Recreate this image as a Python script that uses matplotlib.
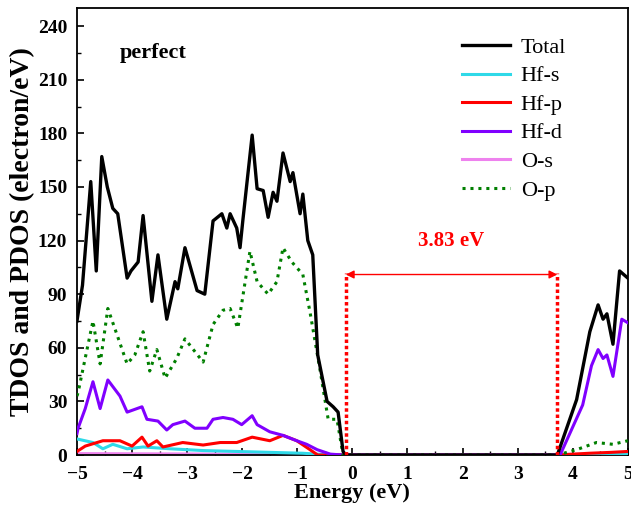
import matplotlib
matplotlib.use('Agg')
import matplotlib.pyplot as plt
from matplotlib.ticker import MultipleLocator

plt.rcParams['font.family'] = ['Liberation Serif', 'DejaVu Serif']

# valence band / conduction band edges (eV)
vbm = -0.12
cbm = 3.72
gap_label = '3.83 eV'
arrow_level = 101

# Total DOS
total_e = [-5.0, -4.9, -4.75, -4.65, -4.55, -4.45, -4.35, -4.26, -4.09, -4.02, -3.89, -3.80,
           -3.64, -3.53, -3.37, -3.22, -3.17, -3.04, -2.82, -2.68, -2.53, -2.37, -2.28,
           -2.22, -2.10, -2.04, -1.99, -1.82, -1.73, -1.62, -1.53, -1.44, -1.37, -1.26,
           -1.13, -1.08, -0.95, -0.90, -0.81, -0.72, -0.63, -0.46, -0.35, -0.26, -0.17,
           -0.12, 3.72, 4.07, 4.31, 4.46, 4.55, 4.62, 4.73, 4.85, 5.0]
total_v = [75, 95, 153, 103, 167, 150, 138, 135, 99, 103, 108, 134,
           86, 112, 76, 97, 93, 116, 92, 90, 131, 135, 127,
           135, 127, 116, 131, 179, 149, 148, 133, 147, 142, 169,
           153, 158, 135, 146, 120, 112, 56, 30, 27, 24, 2,
           0, 0, 31, 69, 84, 76, 79, 62, 103, 99]

# Hf-s
hfs_e = [-5.0, -4.71, -4.53, -4.35, -4.09, -3.80, -3.31, -2.71, -2.10, -1.50, -0.90, -0.40, 3.72, 5.0]
hfs_v = [9, 7, 3.5, 6, 3.5, 4.5, 3.5, 2.5, 2, 1.5, 1, 0, 0, 0.3]

# Hf-p
hfp_e = [-5.0, -4.85, -4.53, -4.22, -4.00, -3.82, -3.71, -3.55, -3.44, -3.08, -2.71, -2.40,
         -2.10, -1.82, -1.50, -1.26, -1.01, -0.77, -0.63, 3.72, 4.3, 4.7, 5.0]
hfp_v = [2, 5, 8, 8, 5, 10, 5, 8, 4.5, 7, 5.6, 7,
         7, 10, 8, 11, 8, 3, 0, 0, 1, 1.5, 2]

# Hf-d
hfd_e = [-5.0, -4.98, -4.85, -4.71, -4.58, -4.44, -4.22, -4.09, -3.82, -3.73, -3.53, -3.37,
         -3.26, -3.04, -2.86, -2.64, -2.53, -2.35, -2.17, -2.01, -1.82, -1.73, -1.50,
         -1.26, -1.01, -0.83, -0.64, -0.40, -0.17, 3.72, 3.77, 4.18, 4.34, 4.46, 4.55,
         4.62, 4.73, 4.89, 5.0]
hfd_v = [12, 15, 26, 41, 26, 42, 33, 24, 27, 20, 19, 14,
         17, 19, 15, 15, 20, 21, 20, 17, 22, 17, 13,
         11, 8, 6, 3, 0.5, 0, 0, 0, 28, 50, 59, 54,
         56, 44, 76, 74]

# O-s
os_e = [-5.0, -0.3, 3.72, 5.0]
os_v = [0.8, 0.3, 0.3, 0.8]

# O-p
op_e = [-5.0, -4.98, -4.71, -4.58, -4.44, -4.27, -4.09, -3.95, -3.80, -3.68, -3.55, -3.40,
        -3.19, -3.04, -2.71, -2.53, -2.35, -2.22, -2.08, -1.86, -1.73, -1.53, -1.37,
        -1.26, -1.10, -0.90, -0.77, -0.59, -0.44, -0.28, -0.17, 3.72, 4.07, 4.43, 4.73, 5.0]
op_v = [33, 35, 75, 51, 82, 67, 51, 56, 69, 47, 59, 43,
        54, 65, 52, 73, 81, 82, 71, 114, 97, 90, 97,
        116, 108, 101, 80, 48, 20, 20, 0, 0, 3, 7, 6, 8]

fig = plt.figure(figsize=(6.31, 5.13), dpi=100)
ax = fig.add_axes([0.122, 0.113, 0.873, 0.871])

ax.plot(total_e, total_v, color='black', lw=2.4, label='Total', zorder=6)
ax.plot(hfs_e, hfs_v, color='#2fd9e8', lw=2.2, label='Hf-s', zorder=3)
ax.plot(hfp_e, hfp_v, color='#ff0000', lw=2.2, label='Hf-p', zorder=4)
ax.plot(hfd_e, hfd_v, color='#8000ff', lw=2.2, label='Hf-d', zorder=5)
ax.plot(os_e, os_v, color='#ee82ee', lw=2.2, label='O-s', zorder=2)
ax.plot(op_e, op_v, color='#007f00', lw=2.2, ls=(0, (1, 1.6)), label='O-p', zorder=5)

# band gap markers
ax.plot([vbm, vbm], [0, arrow_level + 1], color='red', lw=2.5, ls=(0, (1, 0.8)), zorder=7)
ax.plot([cbm, cbm], [0, arrow_level + 1], color='red', lw=2.5, ls=(0, (1, 0.8)), zorder=7)
ax.annotate('', xy=(vbm, arrow_level), xytext=(cbm, arrow_level),
            arrowprops=dict(arrowstyle='<|-|>', color='red', lw=1, mutation_scale=12,
                            shrinkA=0, shrinkB=0))
ax.text((vbm + cbm) / 2, 120, gap_label, color='red', fontsize=15,
        fontweight='bold', ha='center', va='center')

ax.text(-4.22, 225, 'perfect', fontsize=16, fontweight='bold', ha='left', va='center')

ax.set_xlim(-5, 5)
ax.set_ylim(0, 250)
ax.xaxis.set_major_locator(MultipleLocator(1))
ax.xaxis.set_minor_locator(MultipleLocator(0.5))
ax.yaxis.set_major_locator(MultipleLocator(30))
ax.yaxis.set_minor_locator(MultipleLocator(15))
ax.tick_params(which='both', direction='in', top=False, right=False)
ax.tick_params(which='major', length=5, width=1.2, labelsize=14)
ax.tick_params(axis='x', which='major', pad=8)
ax.tick_params(axis='y', which='major', pad=7)
ax.tick_params(which='minor', length=3, width=1)
for lab in ax.get_xticklabels() + ax.get_yticklabels():
    lab.set_fontweight('bold')
for sp in ax.spines.values():
    sp.set_linewidth(1.3)

ax.set_xlabel('Energy (eV)', fontsize=16, fontweight='bold', labelpad=0)
ax.set_ylabel('TDOS and PDOS (electron/eV)', fontsize=20, fontweight='bold', labelpad=2)

ax.legend(loc='upper right', bbox_to_anchor=(0.904, 0.955), frameon=False, fontsize=16,
          handlelength=2.16, labelspacing=0.36, handletextpad=0.5, borderaxespad=0)

fig.savefig('out.png', dpi=100)
